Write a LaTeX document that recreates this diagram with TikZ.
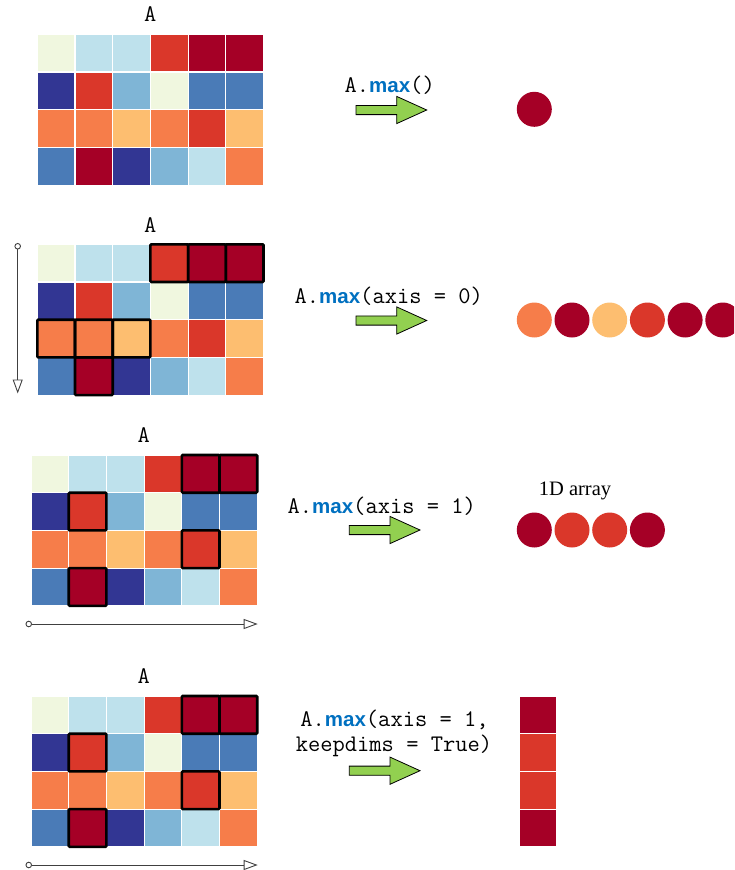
\documentclass[tikz,border=0pt]{standalone}
\usepackage{fontspec}
\setmainfont{Liberation Serif}
\newfontfamily\kwfont{Liberation Sans}
\usetikzlibrary{arrows.meta}

\definecolor{cpale}{HTML}{F0F7DF}
\definecolor{clblue}{HTML}{BEE1EC}
\definecolor{cmblue}{HTML}{7FB5D6}
\definecolor{cblue}{HTML}{4A7BB7}
\definecolor{cnavy}{HTML}{323693}
\definecolor{cred}{HTML}{DA372A}
\definecolor{cdred}{HTML}{A50026}
\definecolor{corange}{HTML}{F67D4A}
\definecolor{clorange}{HTML}{FDBE70}
\definecolor{kwblue}{HTML}{0070C0}
\definecolor{arrowgreen}{HTML}{92D050}

\newcommand{\kw}{{\kwfont\bfseries\fontsize{20.5}{25}\selectfont\color{kwblue}max}}

% the 4x6 matrix A, row by row
\newcommand{\matcolors}{cpale,clblue,clblue,cred,cdred,cdred,%
  cnavy,cred,cmblue,cpale,cblue,cblue,%
  corange,corange,clorange,corange,cred,clorange,%
  cblue,cdred,cnavy,cmblue,clblue,corange}

% #1 name, #2 left, #3 top
\newcommand{\drawmat}[3]{%
  \foreach \c [count=\i from 0] in \matcolors {
    \pgfmathtruncatemacro{\mrow}{\i/6}
    \pgfmathtruncatemacro{\mcol}{mod(\i,6)}
    \node[cell,fill=\c] (#1-\mrow-\mcol) at ({#2+37.7*\mcol+18.85},{#3+37.7*\mrow+18.85}) {};
  }}

\begin{document}
\begin{tikzpicture}[
  x=1pt,y=-1pt,
  mono/.style={font=\ttfamily\fontsize{23.8}{25}\selectfont,inner sep=0pt},
  cell/.style={draw=white,line width=1.2pt,minimum size=37.7pt,inner sep=0pt,outer sep=0pt},
  hilite/.style={draw=black,line width=2.6pt,rounded corners=1pt},
  dot/.style={circle,minimum size=35pt,inner sep=0pt},
  axis/.style={draw=black!75,line width=0.9pt,
    {Circle[open,length=6.5pt]}-{Triangle[open,length=14pt,width=10pt]}},
  fatarrow/.pic={
    \draw[fill=arrowgreen,line width=0.8pt,line join=miter]
      (0,-4.6) -- (40.7,-4.6) -- (40.7,-13.6) -- (70.7,0) -- (40.7,13.6)
      -- (40.7,4.6) -- (0,4.6) -- cycle;}
 ]
  \useasboundingbox (0,0) rectangle (734,870);
  \clip (0,0) rectangle (734,870);

  % A.max()
  \node[mono,anchor=base] (lblA1) at (150.3,21.7) {A};
  \drawmat{ga}{37.3}{34.3}
  \node[mono,anchor=base west] (call1) at (344.5,92.3) {A.\kw()};
  \pic (go1) at (356,110) {fatarrow};
  \node[dot,fill=cdred] (res1) at (534.3,109.3) {};

  % A.max(axis = 0)
  \node[mono,anchor=base] (lblA2) at (150.3,232.7) {A};
  \drawmat{gb}{37.3}{244.3}
  \coordinate (ax0s) at (17.7,243);
  \coordinate (ax0e) at (17.7,393.5);
  \draw[axis] (ax0s) -- (ax0e);
  \foreach \p in {0-3,0-4,0-5,2-0,2-1,2-2,3-1}
    \draw[hilite] (gb-\p.north west) rectangle (gb-\p.south east);
  \node[mono,anchor=base west] (call2) at (294.5,303.3) {A.\kw(axis = 0)};
  \pic (go2) at (356,320.5) {fatarrow};
  \foreach \c [count=\i from 0] in {corange,cdred,clorange,cred,cdred,cdred}
    \node[dot,fill=\c] (res2-\i) at ({534.3+37.7*\i},320) {};

  % A.max(axis = 1)
  \node[mono,anchor=base] (lblA3) at (143.8,442.7) {A};
  \drawmat{gc}{31}{455}
  \coordinate (ax1s) at (25.5,624);
  \coordinate (ax1e) at (257.7,624);
  \draw[axis] (ax1s) -- (ax1e);
  \foreach \p in {0-4,0-5,1-1,2-4,3-1}
    \draw[hilite] (gc-\p.north west) rectangle (gc-\p.south east);
  \node[mono,anchor=base west] (call3) at (287.5,513.3) {A.\kw(axis = 1)};
  \pic (go3) at (349.3,530) {fatarrow};
  \node[font=\fontsize{20.5}{25}\selectfont,anchor=base,inner sep=0pt] (lab1d) at (575,495) {1D array};
  \foreach \c [count=\i from 0] in {cdred,cred,cred,cdred}
    \node[dot,fill=\c] (res3-\i) at ({534.3+37.7*\i},530) {};

  % A.max(axis = 1, keepdims = True)
  \node[mono,anchor=base] (lblA4) at (143.8,683.3) {A};
  \drawmat{gd}{31}{696}
  \coordinate (ax2s) at (25.5,865);
  \coordinate (ax2e) at (257.7,865);
  \draw[axis] (ax2s) -- (ax2e);
  \foreach \p in {0-4,0-5,1-1,2-4,3-1}
    \draw[hilite] (gd-\p.north west) rectangle (gd-\p.south east);
  \node[mono,anchor=base] (call4a) at (394.5,726.7) {A.\kw(axis = 1,};
  \node[mono,anchor=base] (call4b) at (394,751.7) {keepdims = True)};
  \pic (go4) at (349.3,770.7) {fatarrow};
  \foreach \c [count=\i from 0] in {cdred,cred,cred,cdred}
    \node[cell,fill=\c] (res4-\i) at (537.85,{696+37.7*\i+18.85}) {};
\end{tikzpicture}
\end{document}
